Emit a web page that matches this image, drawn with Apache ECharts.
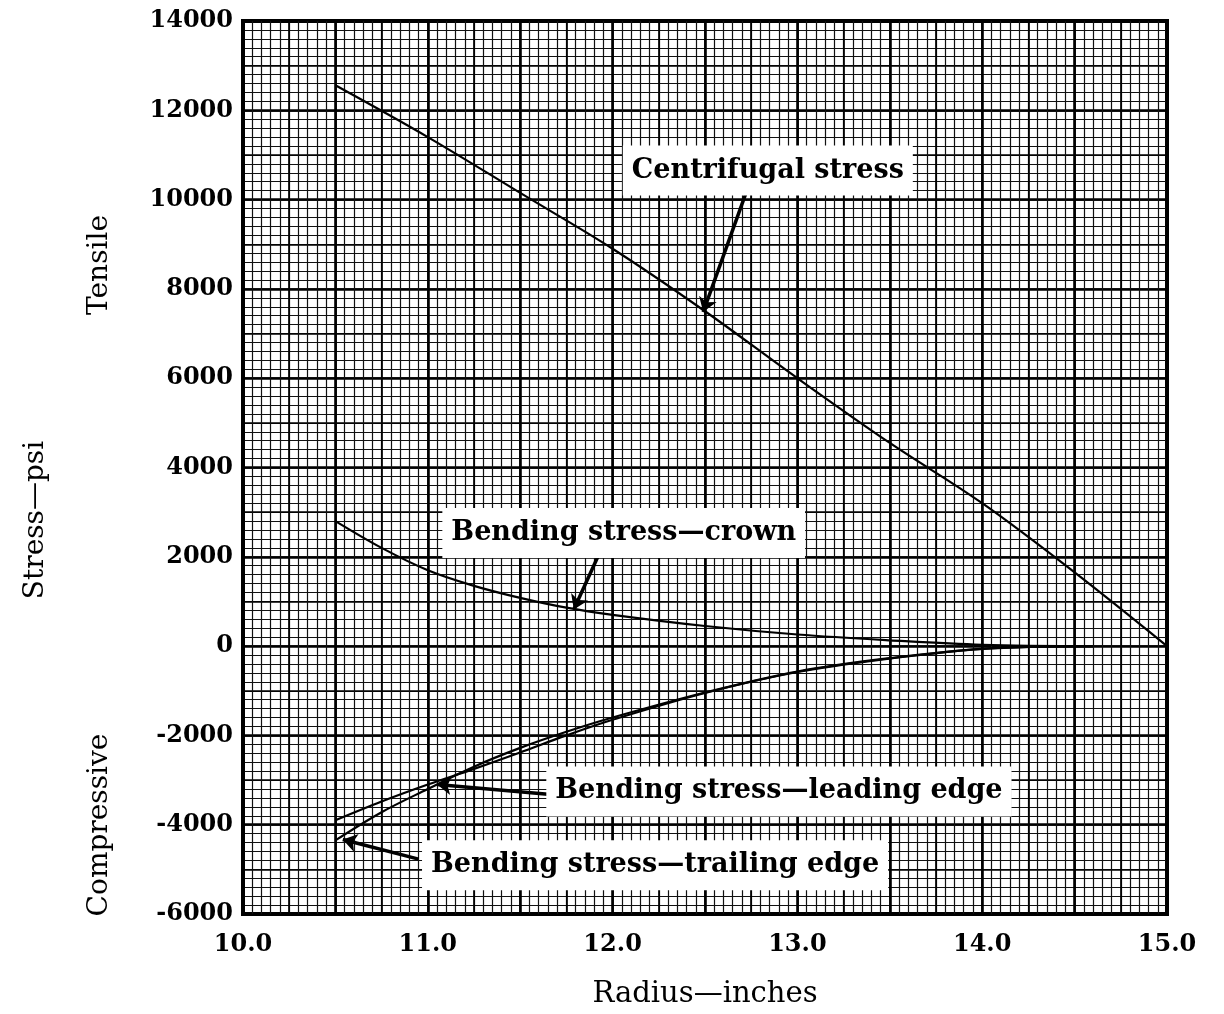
<!DOCTYPE html>
<html>
<head>
<meta charset="utf-8">
<script src="https://cdn.jsdelivr.net/npm/echarts@6/dist/echarts.min.js"></script>
<style>
html,body{margin:0;padding:0;background:#fff;}
#chart{width:1224px;height:1014px;}
</style>
</head>
<body>
<div id="chart"></div>
<script>
// ---- data ----
const centrifugalX = [10.5, 11.0, 11.5, 12.0, 12.5, 13.0, 13.5, 14.0, 14.5, 15.0];
const centrifugalY = [12560, 11400, 10150, 8900, 7500, 6000, 4550, 3200, 1650, 0];

const crownX = [10.5, 10.75, 11.0, 11.25, 11.5, 11.75, 12.0, 12.5, 13.0, 13.5, 14.0, 14.6];
const crownY = [2800, 2200, 1700, 1350, 1080, 860, 700, 450, 260, 130, 30, 0];

const leadingX = [10.5, 10.75, 11.0, 11.25, 11.5, 11.75, 12.0, 12.5, 13.0, 13.5, 14.0, 14.6];
const leadingY = [-3900, -3480, -3100, -2750, -2380, -2000, -1650, -1050, -580, -280, -60, 0];

const trailingX = [10.5, 10.75, 11.0, 11.25, 11.5, 11.75, 12.0, 12.5, 13.0, 13.5, 14.0, 14.6];
const trailingY = [-4350, -3720, -3200, -2700, -2280, -1920, -1600, -1040, -570, -270, -60, 0];

const xTicks = [10.0, 11.0, 12.0, 13.0, 14.0, 15.0];
const yTicks = [-6000, -4000, -2000, 0, 2000, 4000, 6000, 8000, 10000, 12000, 14000];

// annotations: [label, box center x, box center y, arrow start x, y, arrow tip x, y]
const annotations = [
  ['Centrifugal stress', 12.84, 10650, 12.72, 10130, 12.49, 7480],
  ['Bending stress\u2014crown', 12.06, 2535, 11.92, 2000, 11.79, 820],
  ['Bending stress\u2014leading edge', 12.90, -3255, 11.65, -3320, 11.05, -3100],
  ['Bending stress\u2014trailing edge', 12.23, -4910, 10.95, -4770, 10.54, -4330]
];

const zip = (xs, ys) => xs.map((x, i) => [x, ys[i]]);

const serif = 'DejaVu Serif';
const chart = echarts.init(document.getElementById('chart'));

const lineSeries = (name, xs, ys) => ({
  name, type: 'line', data: zip(xs, ys), smooth: 0.35, showSymbol: false,
  lineStyle: { color: '#000', width: 2.2 }, z: 5, silent: true
});

const titleFont = '28px "DejaVu Serif"';

const option = {
  animation: false,
  backgroundColor: '#fff',
  grid: { left: 243, right: 57, top: 21, bottom: 97, show: true, borderColor: '#000', borderWidth: 4, backgroundColor: 'transparent' },
  xAxis: [{
    type: 'value', min: 10, max: 15, interval: 0.5,
    axisLine: { show: false }, axisTick: { show: false },
    axisLabel: {
      margin: 19, color: '#000', fontFamily: serif, fontWeight: 'bold', fontSize: 24,
      formatter: v => xTicks.some(t => Math.abs(t - v) < 1e-6) ? v.toFixed(1) : ''
    },
    splitLine: { show: true, lineStyle: { color: '#000', width: 2.6 } },
    minorTick: { show: false, splitNumber: 10 },
    minorSplitLine: { show: true, lineStyle: { color: '#111', width: 1.2 } },
    name: 'Radius\u2014inches', nameLocation: 'middle', nameGap: 66,
    nameTextStyle: { color: '#000', fontFamily: serif, fontSize: 29 }
  }, {
    type: 'value', min: 10, max: 15, interval: 0.25, show: true,
    axisLine: { show: false }, axisTick: { show: false }, axisLabel: { show: false },
    splitLine: { show: true, lineStyle: { color: '#000', width: 1.7 } }
  }],
  yAxis: [{
    type: 'value', min: -6000, max: 14000, interval: 2000,
    axisLine: { show: false }, axisTick: { show: false },
    axisLabel: {
      margin: 10, color: '#000', fontFamily: serif, fontWeight: 'bold', fontSize: 24,
      formatter: v => yTicks.includes(v) ? String(v) : ''
    },
    splitLine: { show: true, lineStyle: { color: '#000', width: 2.6 } },
    minorTick: { show: false, splitNumber: 10 },
    minorSplitLine: { show: true, lineStyle: { color: '#111', width: 1.2 } }
  }, {
    type: 'value', min: -6000, max: 14000, interval: 1000, show: true,
    axisLine: { show: false }, axisTick: { show: false }, axisLabel: { show: false },
    splitLine: { show: true, lineStyle: { color: '#000', width: 1.7 } }
  }],
  graphic: [
    { type: 'text', rotation: Math.PI / 2, x: 36, y: 520, style: { text: 'Stress\u2014psi', fill: '#000', font: titleFont, textAlign: 'center', textVerticalAlign: 'middle' } },
    { type: 'text', rotation: Math.PI / 2, x: 100, y: 265, style: { text: 'Tensile', fill: '#000', font: titleFont, textAlign: 'center', textVerticalAlign: 'middle' } },
    { type: 'text', rotation: Math.PI / 2, x: 100, y: 825, style: { text: 'Compressive', fill: '#000', font: titleFont, textAlign: 'center', textVerticalAlign: 'middle' } }
  ],
  series: [
    lineSeries('Centrifugal stress', centrifugalX, centrifugalY),
    lineSeries('Bending stress\u2014crown', crownX, crownY),
    lineSeries('Bending stress\u2014leading edge', leadingX, leadingY),
    lineSeries('Bending stress\u2014trailing edge', trailingX, trailingY),
    {
      name: 'arrows', type: 'lines', coordinateSystem: 'cartesian2d', z: 8, silent: true,
      symbol: ['none', 'arrow'], symbolSize: 14,
      lineStyle: { color: '#000', width: 3.5, opacity: 1 },
      data: annotations.map(a => ({ coords: [[a[3], a[4]], [a[5], a[6]]] }))
    },
    {
      name: 'labels', type: 'scatter', z: 10, silent: true, symbolSize: 0,
      itemStyle: { opacity: 1 },
      data: annotations.map(a => ({ value: [a[1], a[2]], label: { formatter: a[0] } })),
      label: {
        show: true, position: 'inside', color: '#000', opacity: 1, fontFamily: serif, fontSize: 27, fontWeight: 'bold',
        backgroundColor: '#fff', padding: [10, 9, 10, 9], lineHeight: 30
      }
    }
  ]
};
chart.setOption(option);
</script>
</body>
</html>
